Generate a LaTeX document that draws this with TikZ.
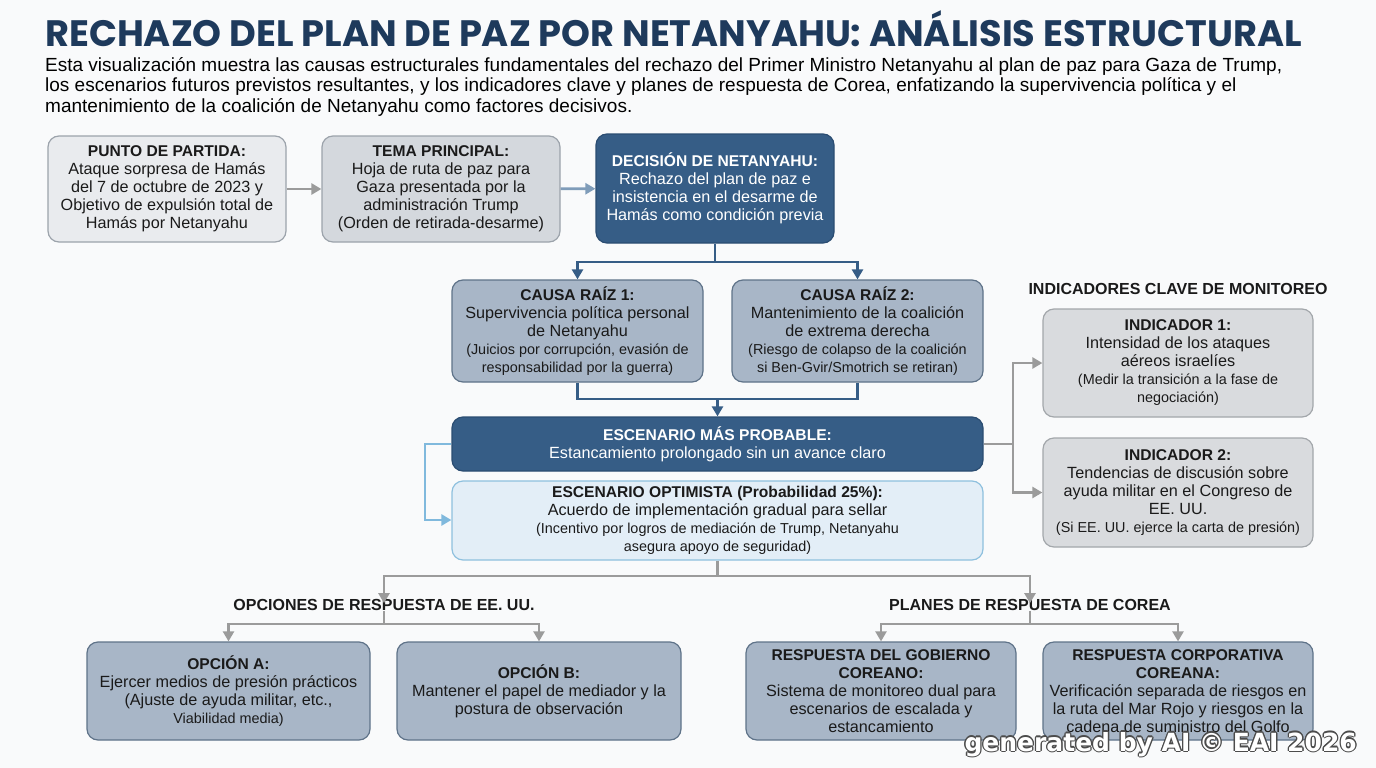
\documentclass[tikz,border=0pt]{standalone}
\usepackage{fontspec}
\setmainfont{Liberation Sans}
\newfontfamily\titlefont{Poppins}
\newfontfamily\wmfont{DejaVu Sans}
\usetikzlibrary{arrows.meta}
\definecolor{bgc}{HTML}{F9FAFB}
\definecolor{titlec}{HTML}{1E3A5C}
\definecolor{txt}{HTML}{1A1A1A}
\definecolor{boxA}{HTML}{E9EBEE}
\definecolor{boxB}{HTML}{D4D8DD}
\definecolor{grayline}{HTML}{9CA3AB}
\definecolor{darkblue}{HTML}{365D86}
\definecolor{darkblueb}{HTML}{2B4D72}
\definecolor{causefill}{HTML}{A8B6C7}
\definecolor{causeline}{HTML}{5F7389}
\definecolor{optfill}{HTML}{E3EEF7}
\definecolor{optline}{HTML}{8EC0DE}
\definecolor{indfill}{HTML}{D9DBDE}
\definecolor{indline}{HTML}{A3A7AB}
\definecolor{conngray}{HTML}{9B9B9B}
\definecolor{connblue}{HTML}{7F9CB9}
\definecolor{connlight}{HTML}{80B9DD}
\tikzset{
  basebox/.style={rounded corners=11pt, line width=1.2pt, align=center, inner sep=0pt, text=txt,
    font=\fontsize{16.2}{18}\selectfont},
  graybox/.style={basebox, fill=boxA, draw=grayline},
  graybox2/.style={basebox, fill=boxB, draw=grayline},
  darkbox/.style={basebox, fill=darkblue, draw=darkblueb, text=white},
  causebox/.style={basebox, fill=causefill, draw=causeline},
  optbox/.style={basebox, fill=optfill, draw=optline},
  indbox/.style={basebox, fill=indfill, draw=indline},
  conn/.style={line width=2.6pt, draw=conngray, -{Triangle[length=10pt,width=11pt]}},
  connplain/.style={line width=2.6pt, draw=conngray},
  connd/.style={line width=2.6pt, draw=darkblue},
  conndarrow/.style={connd, -{Triangle[length=10pt,width=11pt]}},
  hdr/.style={font=\bfseries\fontsize{16}{18}\selectfont, text=txt, inner sep=0pt},
  wmstyle/.style={anchor=base east, inner sep=0pt, font=\wmfont\bfseries\fontsize{25}{27}\selectfont},
}
\newcommand{\sm}{\fontsize{14.4}{16}\selectfont}
\newcommand{\hd}[1]{{\fontsize{15.6}{18}\selectfont\bfseries #1}}
\begin{document}
\begin{tikzpicture}[x=1pt,y=-1pt]
\useasboundingbox (0,0) rectangle (1376,768);
\fill[bgc] (0,0) rectangle (1376,768);

% Title
\node[anchor=base west, inner sep=0pt, text=titlec] (title) at (45,47)
  {\raisebox{0pt}[\height][0pt]{\resizebox{1256pt}{!}{\titlefont\bfseries RECHAZO DEL PLAN DE PAZ POR NETANYAHU: ANÁLISIS ESTRUCTURAL}}};
\node[anchor=north west, inner sep=0pt, align=left, text=black, font=\fontsize{19}{20.5}\selectfont] (sub) at (45,57)
  {Esta visualización muestra las causas estructurales fundamentales del rechazo del Primer Ministro Netanyahu al plan de paz para Gaza de Trump,\\
   los escenarios futuros previstos resultantes, y los indicadores clave y planes de respuesta de Corea, enfatizando la supervivencia política y el\\
   mantenimiento de la coalición de Netanyahu como factores decisivos.};

% Top row
\node[graybox, minimum width=238pt, minimum height=106pt] (b1) at (167,189)
  {\hd{PUNTO DE PARTIDA:}\\Ataque sorpresa de Hamás\\del 7 de octubre de 2023 y\\Objetivo de expulsión total de\\Hamás por Netanyahu};
\node[graybox2, minimum width=238pt, minimum height=106pt] (b2) at (441,189)
  {\hd{TEMA PRINCIPAL:}\\Hoja de ruta de paz para\\Gaza presentada por la\\administración Trump\\(Orden de retirada-desarme)};
\node[darkbox, minimum width=238pt, minimum height=109pt] (b3) at (715,188.5)
  {\hd{DECISIÓN DE NETANYAHU:}\\Rechazo del plan de paz e\\insistencia en el desarme de\\Hamás como condición previa};
\draw[conn] (b1) -- (b2);
\draw[conn, draw=connblue] (b2) -- (b3);

% Causes
\node[causebox, minimum width=251pt, minimum height=102pt] (c1) at (577.5,331)
  {\hd{CAUSA RAÍZ 1:}\\Supervivencia política personal\\de Netanyahu\\\sm (Juicios por corrupción, evasión de\\\sm responsabilidad por la guerra)};
\node[causebox, minimum width=251pt, minimum height=102pt] (c2) at (857.5,331)
  {\hd{CAUSA RAÍZ 2:}\\Mantenimiento de la coalición\\de extrema derecha\\\sm (Riesgo de colapso de la coalición\\\sm si Ben-Gvir/Smotrich se retiran)};
\coordinate (j1) at (715,262);
\draw[connd] (b3.south) -- (j1);
\draw[conndarrow] (j1) -| (c1.north);
\draw[conndarrow] (j1) -| (c2.north);

% Scenarios
\node[darkbox, minimum width=531pt, minimum height=54pt] (s1) at (717.5,444)
  {\hd{ESCENARIO MÁS PROBABLE:}\\Estancamiento prolongado sin un avance claro};
\node[optbox, minimum width=531pt, minimum height=79pt] (s2) at (717.5,520.5)
  {\hd{ESCENARIO OPTIMISTA (Probabilidad 25\%):}\\Acuerdo de implementación gradual para sellar\\\sm (Incentivo por logros de mediación de Trump, Netanyahu\\\sm asegura apoyo de seguridad)};
\coordinate (j2) at (717.5,399);
\draw[connd] (c1.south) |- (j2);
\draw[connd] (c2.south) |- (j2);
\draw[conndarrow] (j2) -- (s1.north);
\coordinate (lb1) at (425,444);
\coordinate (lb2) at (425,520);
\draw[line width=2.6pt, draw=connlight, -{Triangle[length=10pt,width=11pt]}] (s1.west) -- (lb1) -- (lb2) -- (s2.west |- lb2);

% Indicators
\node[hdr] (ihdr) at (1178,289) {INDICADORES CLAVE DE MONITOREO};
\node[indbox, minimum width=270pt, minimum height=108pt] (i1) at (1178,363)
  {\hd{INDICADOR 1:}\\Intensidad de los ataques\\aéreos israelíes\\\sm (Medir la transición a la fase de\\\sm negociación)};
\node[indbox, minimum width=270pt, minimum height=109pt] (i2) at (1178,492.5)
  {\hd{INDICADOR 2:}\\Tendencias de discusión sobre\\ayuda militar en el Congreso de\\EE. UU.\\\sm (Si EE. UU. ejerce la carta de presión)};
\coordinate (j3) at (1013,444);
\draw[connplain] (s1.east) -- (j3);
\draw[conn] (j3) |- (i1.west);
\draw[conn] (j3) |- (i2.west);

% Bottom section
\node[hdr] (h1) at (384,605) {OPCIONES DE RESPUESTA DE EE. UU.};
\node[hdr] (h2) at (1030,605) {PLANES DE RESPUESTA DE COREA};
\coordinate (j4) at (717.5,576);
\draw[connplain] (s2.south) -- (j4);
\draw[conn] (j4) -| ([yshift=-4pt]h1.north);
\draw[conn] (j4) -| ([yshift=-4pt]h2.north);

\node[causebox, minimum width=283pt, minimum height=98pt] (oa) at (228.5,691)
  {\hd{OPCIÓN A:}\\Ejercer medios de presión prácticos\\(Ajuste de ayuda militar, etc.,\\\sm Viabilidad media)};
\node[causebox, minimum width=284pt, minimum height=98pt] (ob) at (539,691)
  {\hd{OPCIÓN B:}\\Mantener el papel de mediador y la\\postura de observación};
\node[causebox, minimum width=270pt, minimum height=98pt] (kg) at (881,691)
  {\hd{RESPUESTA DEL GOBIERNO}\\\hd{COREANO:}\\Sistema de monitoreo dual para\\escenarios de escalada y\\estancamiento};
\node[causebox, minimum width=270pt, minimum height=98pt] (kc) at (1178,691)
  {\hd{RESPUESTA CORPORATIVA}\\\hd{COREANA:}\\Verificación separada de riesgos en\\la ruta del Mar Rojo y riesgos en la\\cadena de suministro del Golfo};

\coordinate (j5) at (384,624);
\draw[connplain, line width=2.2pt] (h1.south) -- (j5);
\draw[conn, line width=2.2pt] (j5) -| (oa.north);
\draw[conn, line width=2.2pt] (j5) -| (ob.north);
\coordinate (j6) at (1030,624);
\draw[connplain, line width=2.2pt] (h2.south) -- (j6);
\draw[conn, line width=2.2pt] (j6) -| (kg.north);
\draw[conn, line width=2.2pt] (j6) -| (kc.north);

% Watermark
\foreach \dx/\dy in {-1.3/0,1.3/0,0/-1.3,0/1.3,-0.9/-0.9,0.9/0.9,-0.9/0.9,0.9/-0.9}{
  \node[wmstyle, text=black!70] at (1357+\dx,751+\dy) {generated by AI © EAI 2026};
}
\node[wmstyle, text=white] (wm) at (1357,751) {generated by AI © EAI 2026};
\end{tikzpicture}
\end{document}
